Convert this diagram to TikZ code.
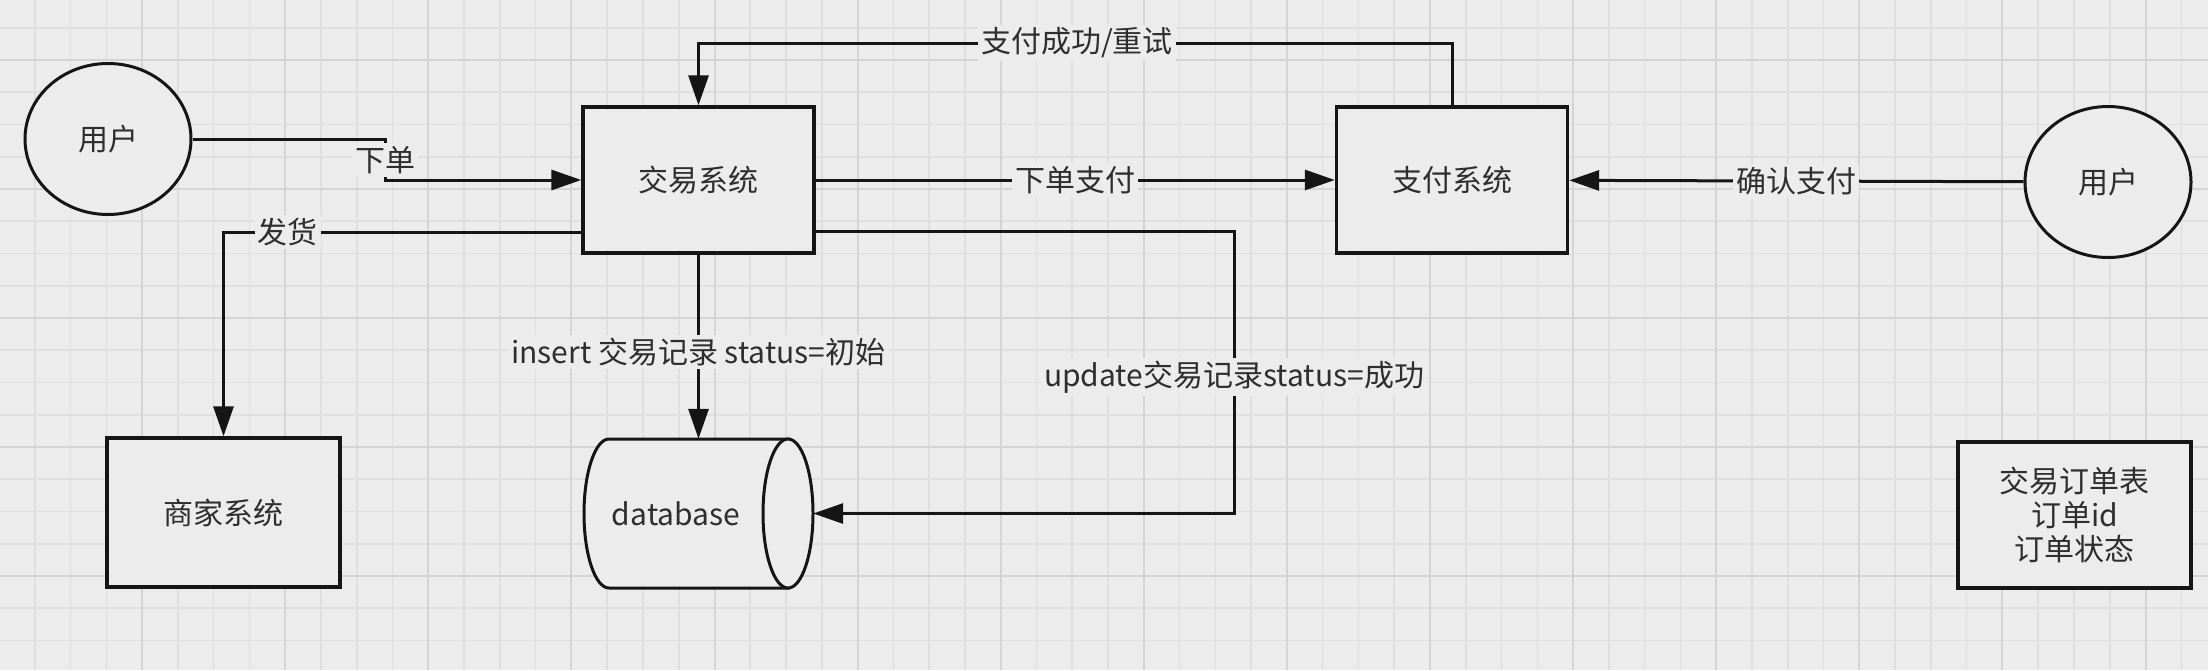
\documentclass[tikz,border=0pt]{standalone}
\usepackage{fontspec}
\setmainfont{Noto Sans CJK SC}
\usetikzlibrary{shapes.geometric,arrows.meta,positioning}
\definecolor{canvas}{HTML}{ECECEC}
\definecolor{grid minor}{HTML}{DFDFDF}
\definecolor{grid major}{HTML}{D4D4D4}
\definecolor{edge}{HTML}{151515}
\definecolor{ink}{HTML}{2E2E2E}
\tikzset{sysbox/.style={draw=edge, fill=canvas, line width=3.4pt, text=ink,
		minimum width=231pt, minimum height=146pt},
	actor/.style={ellipse, draw=edge, fill=canvas, line width=3pt, text=ink,
		minimum width=166pt, minimum height=151pt},
	link/.style={draw=edge, line width=3pt, -{Triangle[length=30pt,width=20pt]}},
	tag/.style={fill=canvas, text=ink, inner sep=3pt}}

\begin{document}
\begin{tikzpicture}[x=1pt, y=-1pt, font=\fontsize{30}{34}\selectfont]
		\useasboundingbox (0,0) rectangle (2208,670);
		\fill[canvas] (0,0) rectangle (2208,670);
		% grid
		\foreach \i in {0,...,62}
			\draw[grid minor, line width=1.6pt] ({-1+35.775*\i},0) -- ++(0,670);
		\foreach \j in {0,...,20}
			\draw[grid minor, line width=1.6pt] (0,{27.75+32.25*\j}) -- ++(2208,0);
		\foreach \i in {0,...,15}
			\draw[grid major, line width=2pt] ({-1+143.1*\i},0) -- ++(0,670);
		\foreach \j in {0,...,5}
			\draw[grid major, line width=2pt] (0,{60+129*\j}) -- ++(2208,0);
		
		\node[actor] (userL) at (108,139) {用户};
		\node[sysbox] (trade) at (698.5,180) {交易系统};
		\node[sysbox] (pay) at (1452,180) {支付系统};
		\node[actor] (userR) at (2108,182) {用户};
		\node[sysbox, minimum width=233pt, minimum height=149pt] (merchant) at (223.5,512.5) {商家系统};
		\node[sysbox, align=center, minimum width=233pt] (ordertbl) at (2074.5,515) {交易订单表\\订单id\\订单状态};
		
		% database cylinder
		\node[minimum width=229pt, minimum height=149pt, inner sep=0pt] (db) at (698.5,513.5) {};
		\draw[edge, fill=canvas, line width=3pt] (609,439) arc[start angle=90, end angle=270, x radius=25pt, y radius=74.5pt]
			-- (788,588) -- (788,439) -- cycle;
		\draw[edge, fill=canvas, line width=3pt] (788,513.5) ellipse[x radius=25pt, y radius=74.5pt];
		\node[text=ink] at (676,514) {database};
		
		\coordinate (kink) at (385,160);
		\coordinate (topY) at (1077,43);
		\coordinate (updX) at (1234,377);
		
		\draw[link] (userL.east) -| (kink) |- (trade.west);
		\node[tag] at (kink) {下单};
		\draw[link] (trade) -- node[tag] {下单支付} (pay);
		\draw[link] (userR) -- node[tag] {确认支付} (pay);
		\draw[link] (pay.north) |- (topY) -| (trade.north);
		\node[tag] at (topY) {支付成功/重试};
		\draw[link] ([yshift=-52pt]trade.west) -| node[tag, pos=0.41] {发货} (merchant.north);
		\draw[link] (trade.south) -- node[tag, pos=0.53] {insert 交易记录 status=初始} (db.north);
		\draw[link] ([yshift=-51pt]trade.east) -| (updX) |- (db.east);
		\node[tag] at (updX) {update交易记录status=成功};
\end{tikzpicture}
\end{document}
